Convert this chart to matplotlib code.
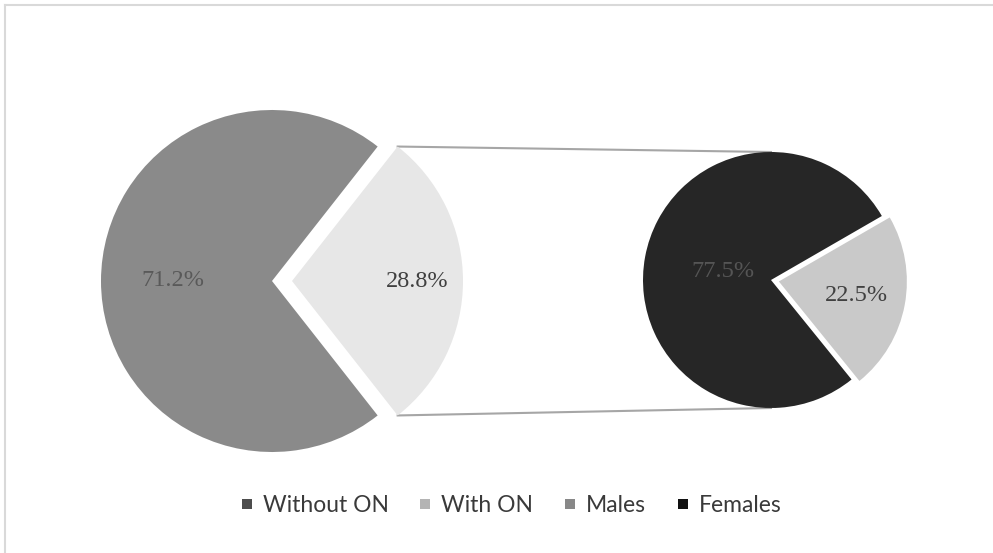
import numpy as np
import matplotlib.pyplot as plt
from matplotlib.lines import Line2D

# gender split (main pie) and ON split among females (secondary pie)
main_labels = ["Males", "Females"]
main_values = [71.2, 28.8]
sub_labels = ["Without ON", "With ON"]
sub_values = [77.5, 22.5]
legend_labels = ["Without ON", "With ON", "Males", "Females"]

W, H = 993, 553
fig = plt.figure(figsize=(W / 100, H / 100), dpi=100)
ax = fig.add_axes([0, 0, 1, 1])

# chart-area frame: only top and left edges visible
ax.plot([4.5, W], [H - 4.5, H - 4.5], color="#d9d9d9", lw=1.5)
ax.plot([4.5, 4.5], [0, H - 4.5], color="#d9d9d9", lw=1.5)

serif = "Liberation Serif"

# main pie, second slice centred on 0 degrees and pulled out
main_start = 360 * main_values[1] / 100 / 2
w1, _, t1 = ax.pie(main_values, center=(272, 272), radius=171,
                   startangle=main_start, explode=[0, 20],
                   colors=["#8a8a8a", "#e7e7e7"], autopct="%.1f%%",
                   wedgeprops=dict(linewidth=0),
                   textprops=dict(family=serif, fontsize=17.5),
                   frame=True)
# secondary pie
w2, _, t2 = ax.pie(sub_values, center=(771, 273), radius=128,
                   startangle=30, explode=[0, 8],
                   colors=["#262626", "#c9c9c9"], autopct="%.1f%%",
                   wedgeprops=dict(linewidth=0),
                   textprops=dict(family=serif, fontsize=17.5),
                   frame=True)
ax.set_xlim(0, W)
ax.set_ylim(0, H)
ax.set_aspect("equal")
ax.axis("off")


def place(text, wedge, d):
    th = np.deg2rad((wedge.theta1 + wedge.theta2) / 2)
    cx, cy = wedge.center
    text.set_position((cx + d * wedge.r * np.cos(th), cy + d * wedge.r * np.sin(th)))


place(t1[0], w1[0], 0.58)
place(t1[1], w1[1], 0.73)
place(t2[0], w2[0], 0.38)
place(t2[1], w2[1], 0.62)
t1[0].set_color("#595959")
t1[1].set_color("#404040")
t2[0].set_color("#555555")
t2[1].set_color("#404040")

# connector lines from exploded slice to the secondary pie
ex = w1[1]
cx, cy = ex.center
top_a = np.deg2rad(ex.theta2)
bot_a = np.deg2rad(ex.theta1)
p_top = (cx + ex.r * np.cos(top_a), cy + ex.r * np.sin(top_a))
p_bot = (cx + ex.r * np.cos(bot_a), cy + ex.r * np.sin(bot_a))
sc = w2[0].center
sr = w2[0].r
ax.plot([p_top[0], sc[0]], [p_top[1], sc[1] + sr], color="#a6a6a6", lw=1.5, zorder=0)
ax.plot([p_bot[0], sc[0]], [p_bot[1], sc[1] - sr], color="#a6a6a6", lw=1.5, zorder=0)

legend_colors = ["#4d4d4d", "#b4b4b4", "#888888", "#111111"]
handles = [Line2D([], [], marker="s", linestyle="none", markersize=6.5,
                  markerfacecolor=c, markeredgewidth=0) for c in legend_colors]
fig.legend(handles, legend_labels, loc="center",
           bbox_to_anchor=(510 / W, 1 - 506 / H),
           ncol=4, frameon=False, handlelength=0.7, handletextpad=0.35,
           columnspacing=1.25, prop=dict(family="Lato", size=16.5),
           labelcolor="#3a3a3a")

fig.savefig("out.png", dpi=100)
